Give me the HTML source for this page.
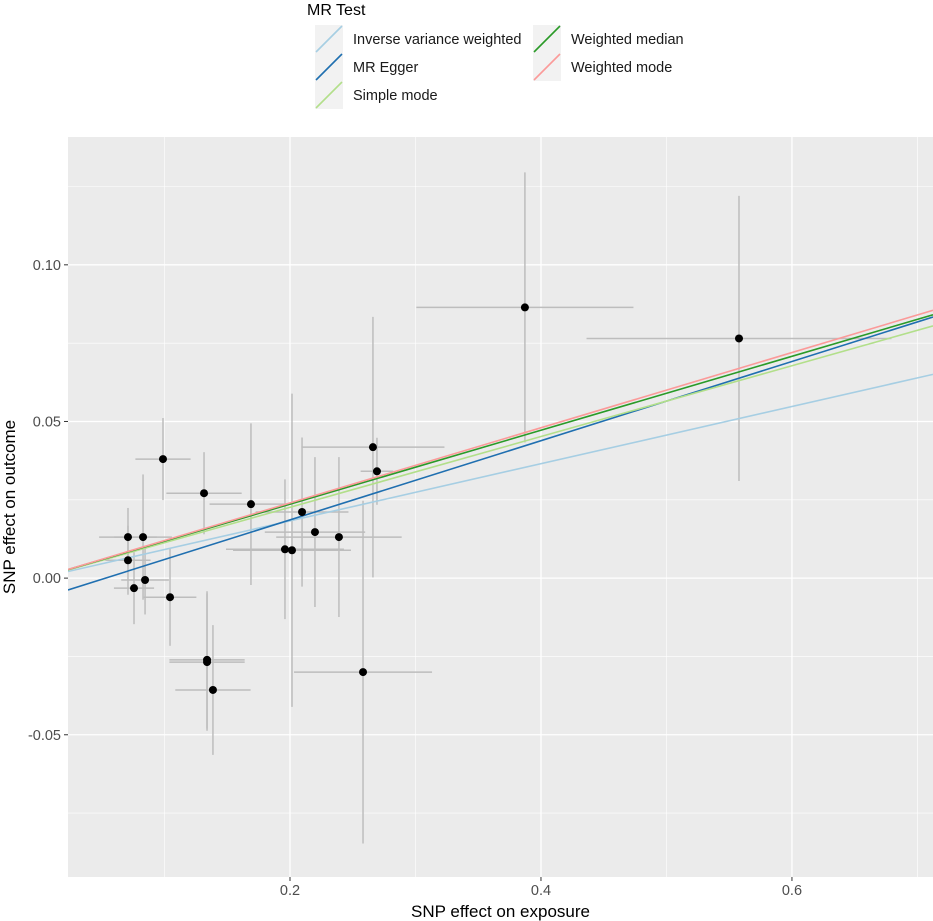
<!DOCTYPE html>
<html><head><meta charset="utf-8"><style>body{margin:0;background:#fff}svg{display:block;font-family:"Liberation Sans",Arial,sans-serif}</style></head>
<body>
<svg id="c" width="933" height="921" xmlns="http://www.w3.org/2000/svg"></svg>
<script>
const bx=[.0709,.0709,.0829,.0757,.0845,.0988,.1044,.1315,.1339,.1339,.1386,.1689,.1960,.2016,.2096,.2199,.2390,.2582,.2661,.2693,.3872,.5578];
const by=[.0131,.0057,.0131,-.0032,-.0006,.0380,-.0061,.0271,-.0261,-.0268,-.0357,.0236,.0092,.0089,.0211,.0147,.0131,-.0300,.0418,.0341,.0864,.0765];
const sx=[.023,.018,.023,.016,.019,.022,.021,.030,.030,.030,.030,.033,.047,.047,.037,.040,.050,.055,.057,.013,.0865,.1215];
const sy=[.0093,.011,.020,.0115,.011,.0131,.0155,.0131,.0219,.0219,.0207,.0258,.0223,.050,.0238,.0239,.0255,.0547,.0416,.0107,.0431,.0455];
const methods=["Inverse variance weighted","MR Egger","Simple mode","Weighted median","Weighted mode"];
const slopes=[.0913,.1264,.113,.118,.120];
const intercepts=[0,-.0067,0,0,0];
const colors=["#a6cee3","#1f6fb0","#b2df8a","#2a9a28","#fb9a99"];
const xTicks=[0.2,0.4,0.6], xTickLabels=["0.2","0.4","0.6"];
const yTicks=[0.10,0.05,0.00,-0.05], yTickLabels=["0.10","0.05","0.00","-0.05"];
const L=68,R=933,T=137,B=877,X0=.0231,X1=.7124,Y0=-.0954,Y1=.1408;
const X=v=>L+(v-X0)/(X1-X0)*(R-L), Y=v=>B-(v-Y0)/(Y1-Y0)*(B-T);
const s=document.getElementById('c'),NS="http://www.w3.org/2000/svg";
function el(t,a,p){const e=document.createElementNS(NS,t);for(const k in a)e.setAttribute(k,a[k]);(p||s).appendChild(e);return e;}
let e=el('rect',{x:L,y:T,width:R-L,height:B-T,fill:'#ebebeb'});


[0.1,0.3,0.5,0.7].forEach(v=>el('line',{x1:X(v),x2:X(v),y1:T,y2:B,stroke:'#fff','stroke-width':0.6}));
[0.125,0.075,0.025,-0.025,-0.075].forEach(v=>el('line',{x1:L,x2:R,y1:Y(v),y2:Y(v),stroke:'#fff','stroke-width':0.6}));
xTicks.forEach((v,i)=>{el('line',{x1:X(v),x2:X(v),y1:T,y2:B,stroke:'#fff','stroke-width':1.3});
el('line',{x1:X(v),x2:X(v),y1:B,y2:B+4,stroke:'#333'});
const t=el('text',{x:X(v),y:B+18,'text-anchor':'middle','font-size':14.5,fill:'#4d4d4d'});t.textContent=xTickLabels[i];

});
yTicks.forEach((v,i)=>{el('line',{x1:L,x2:R,y1:Y(v),y2:Y(v),stroke:'#fff','stroke-width':1.3});
el('line',{x1:L-4,x2:L,y1:Y(v),y2:Y(v),stroke:'#333'});
const t=el('text',{x:L-7,y:Y(v)+5,'text-anchor':'end','font-size':14.5,fill:'#4d4d4d'});t.textContent=yTickLabels[i];

});
const g=el('g',{});
bx.forEach((x,i)=>{const a=el('line',{x1:X(x-sx[i]),x2:X(x+sx[i]),y1:Y(by[i]),y2:Y(by[i]),stroke:'#bdbdbd','stroke-width':1.5},g);


const b=el('line',{x1:X(x),x2:X(x),y1:Y(by[i]-sy[i]),y2:Y(by[i]+sy[i]),stroke:'#bdbdbd','stroke-width':1.5},g);

});
const cp=el('clipPath',{id:'cp'});el('rect',{x:L,y:T,width:R-L,height:B-T},cp);
slopes.forEach((m,i)=>{const l=el('line',{x1:X(X0),y1:Y(intercepts[i]+m*X0),x2:X(X1),y2:Y(intercepts[i]+m*X1),stroke:colors[i],'stroke-width':1.6,'clip-path':'url(#cp)'});

});
bx.forEach((x,i)=>{const c=el('circle',{cx:X(x),cy:Y(by[i]),r:4,fill:'#000'});

});
let t=el('text',{x:(L+R)/2,y:917,'text-anchor':'middle','font-size':17});t.textContent='SNP effect on exposure';


t=el('text',{x:0,y:0,'text-anchor':'middle','font-size':17,transform:`translate(15,${(T+B)/2}) rotate(-90)`});t.textContent='SNP effect on outcome';


t=el('text',{x:307,y:15,'font-size':16});t.textContent='MR Test';


const pos=[[315,25],[315,53],[315,81],[533,25],[533,53]];
methods.forEach((n,i)=>{const [kx,ky]=pos[i];
const k=el('rect',{x:kx,y:ky,width:28,height:28,fill:'#f2f2f2'});


el('line',{x1:kx+1,y1:ky+27,x2:kx+27,y2:ky+1,stroke:colors[i],'stroke-width':1.6});
const tt=el('text',{x:kx+38,y:ky+19,'font-size':14.5,fill:'#1a1a1a'});tt.textContent=n;

});
</script>
</body></html>
